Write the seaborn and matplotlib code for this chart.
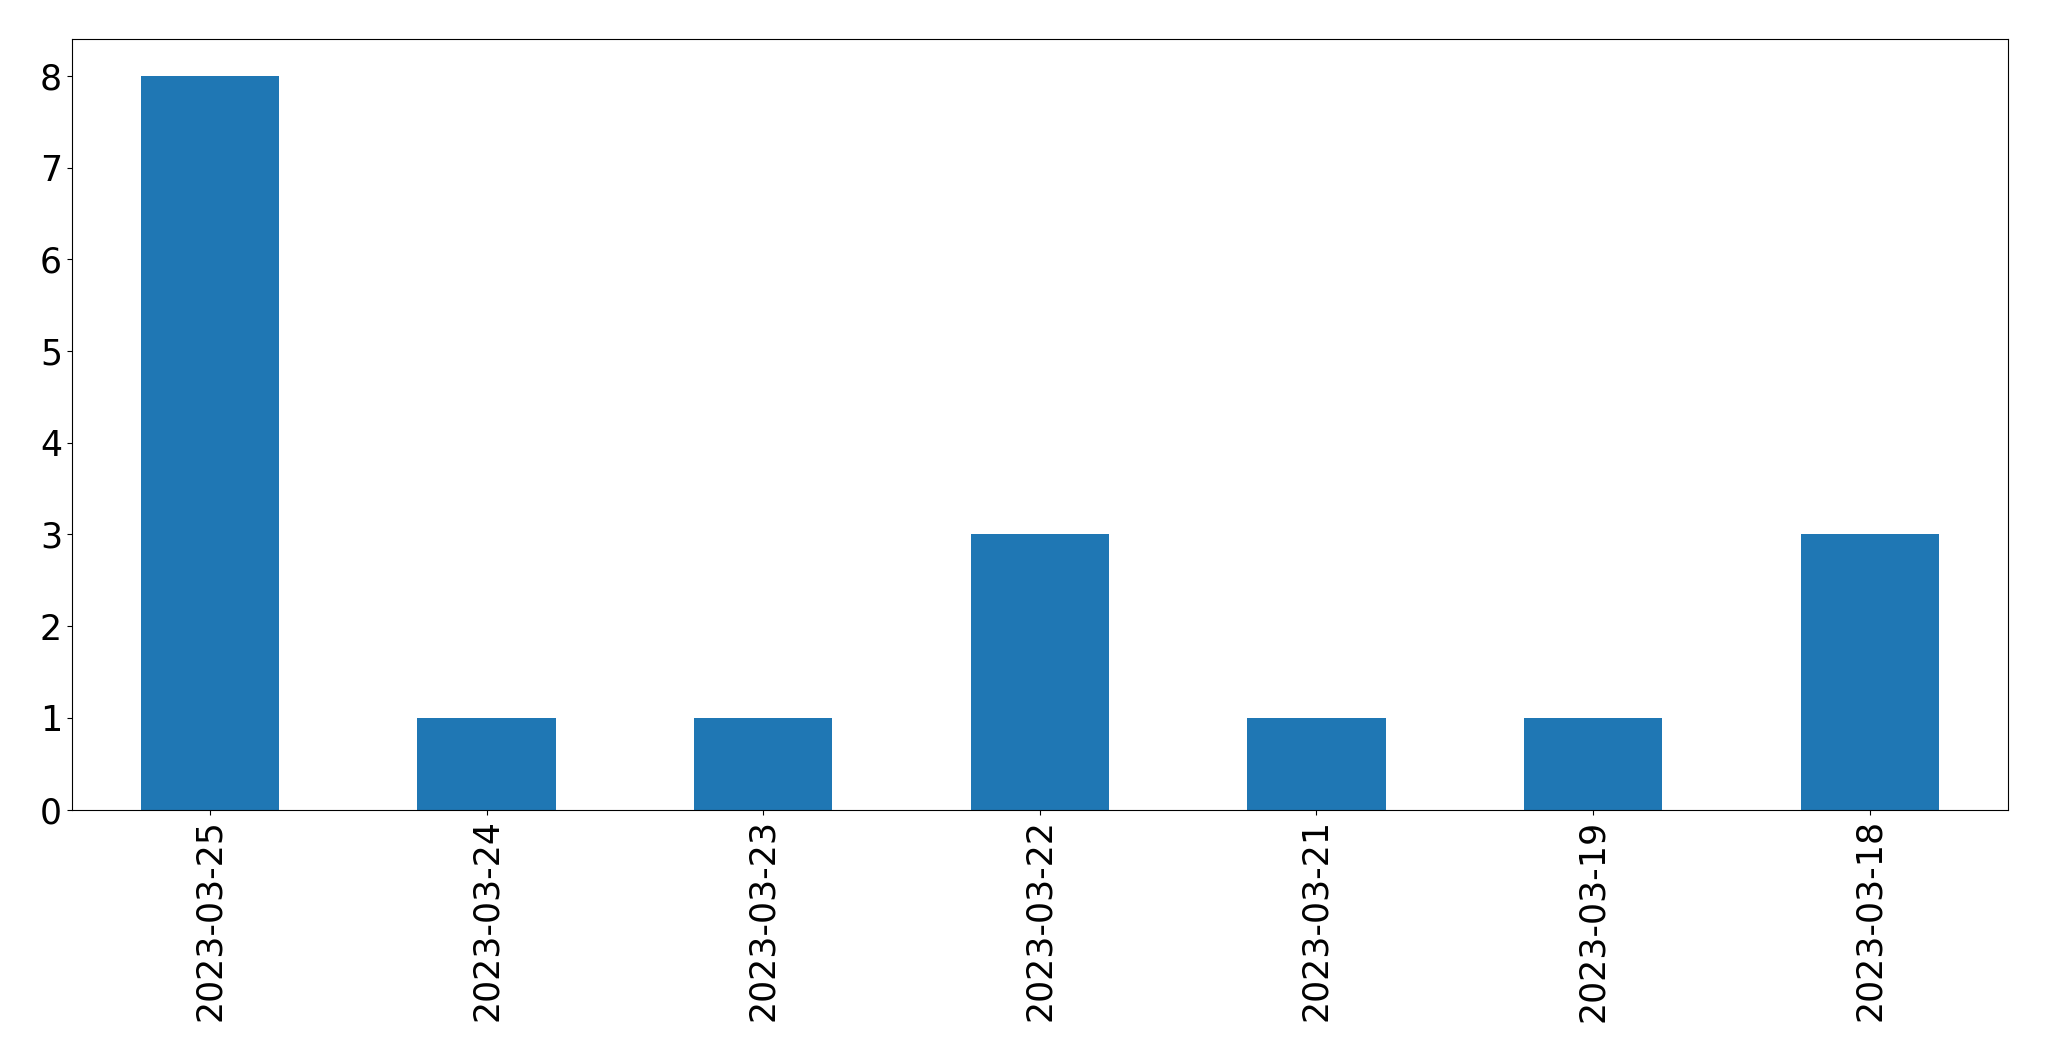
import matplotlib
matplotlib.use("Agg")
import matplotlib.pyplot as plt
import seaborn as sns
import pandas as pd

dates = ["2023-03-25", "2023-03-24", "2023-03-23", "2023-03-22", "2023-03-21", "2023-03-19", "2023-03-18"]
counts = [8, 1, 1, 3, 1, 1, 3]

df = pd.DataFrame({"date": dates, "count": counts})

fig = plt.figure(figsize=(20.49, 10.61), dpi=100)
ax = fig.add_axes([0.035, 0.237, 0.945, 0.726])
sns.barplot(data=df, x="date", y="count", order=dates, color="#1f77b4",
            saturation=1, width=0.5, ax=ax)
ax.set_xlim(-0.5, len(dates) - 0.5)
ax.set_ylim(0, 8.4)
ax.set_xlabel("")
ax.set_ylabel("")
ax.tick_params(axis="both", labelsize=25)
plt.setp(ax.get_xticklabels(), rotation=90)
fig.savefig("out.png", dpi=100)
